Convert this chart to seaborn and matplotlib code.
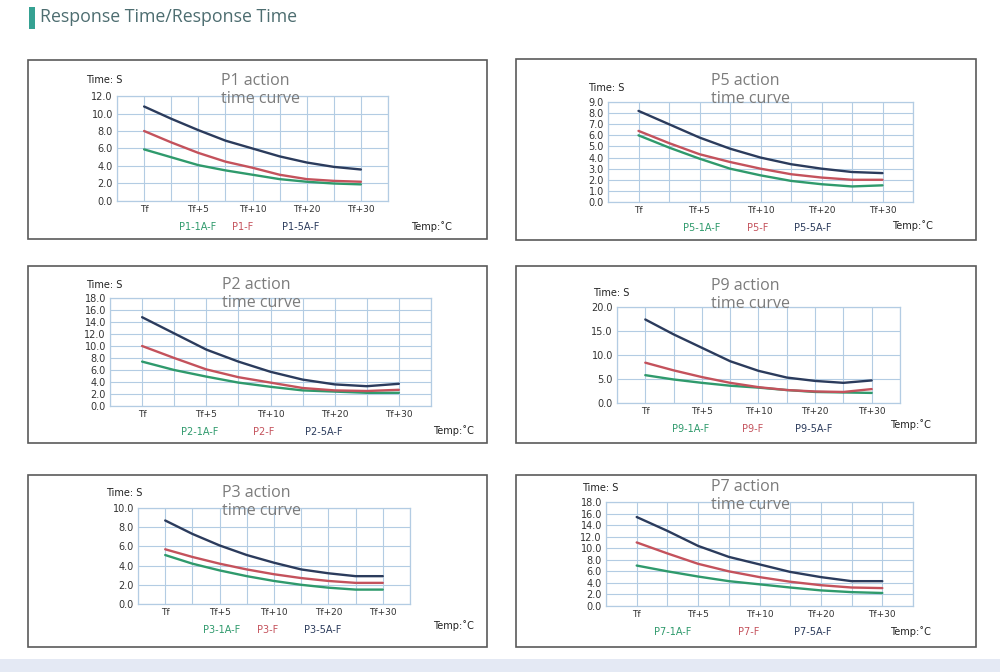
import pandas as pd
import seaborn as sns
import matplotlib
matplotlib.use("Agg")
import matplotlib.pyplot as plt
from matplotlib.patches import Rectangle

W, H = 1000, 672

temps = ["Tf", "Tf+5", "Tf+10", "Tf+20", "Tf+30"]
# curves read every half step between the temperature marks
steps = [0, 0.5, 1, 1.5, 2, 2.5, 3, 3.5, 4]

p1_1a = [5.9, 5.0, 4.1, 3.5, 3.0, 2.5, 2.2, 2.0, 1.9]
p1_f = [8.0, 6.7, 5.5, 4.5, 3.8, 3.0, 2.5, 2.3, 2.2]
p1_5a = [10.8, 9.4, 8.1, 6.9, 6.0, 5.1, 4.4, 3.9, 3.6]

p5_1a = [6.0, 4.9, 3.9, 3.0, 2.4, 1.9, 1.6, 1.4, 1.5]
p5_f = [6.4, 5.3, 4.3, 3.6, 3.0, 2.5, 2.2, 2.0, 2.0]
p5_5a = [8.2, 7.0, 5.8, 4.8, 4.0, 3.4, 3.0, 2.7, 2.6]

p2_1a = [7.4, 6.0, 4.9, 3.9, 3.2, 2.6, 2.4, 2.2, 2.2]
p2_f = [10.0, 8.0, 6.1, 4.8, 3.9, 3.0, 2.6, 2.5, 2.7]
p2_5a = [14.8, 12.1, 9.4, 7.4, 5.7, 4.4, 3.6, 3.3, 3.7]

p9_1a = [5.8, 4.9, 4.2, 3.6, 3.2, 2.7, 2.3, 2.2, 2.1]
p9_f = [8.4, 6.8, 5.4, 4.2, 3.3, 2.7, 2.4, 2.3, 2.9]
p9_5a = [17.4, 14.3, 11.5, 8.7, 6.7, 5.3, 4.6, 4.2, 4.7]

p3_1a = [5.1, 4.2, 3.5, 2.9, 2.4, 2.0, 1.7, 1.5, 1.5]
p3_f = [5.7, 4.9, 4.2, 3.6, 3.1, 2.7, 2.4, 2.2, 2.2]
p3_5a = [8.7, 7.3, 6.1, 5.1, 4.3, 3.6, 3.2, 2.9, 2.9]

p7_1a = [7.0, 6.0, 5.1, 4.3, 3.75, 3.2, 2.7, 2.4, 2.25]
p7_f = [11.0, 9.1, 7.3, 6.0, 5.0, 4.2, 3.6, 3.2, 3.1]
p7_5a = [15.4, 13.0, 10.4, 8.5, 7.2, 5.9, 5.0, 4.3, 4.3]

GREEN = "#2f9a6c"
RED = "#c4525c"
NAVY = "#2b3b5c"
GRID = "#b3cce3"
SMALL = ["DejaVu Sans"]

# name, series, ymax, ystep, box(px), axes(px), title(x,y), timeS(x,y), temp(x,y), legend x (data)
panels = [
    ("P1", (p1_1a, p1_f, p1_5a), 12, 2, (28, 60, 487, 239), (117, 96, 388, 201),
     (221, 90), (86, 80), (411, 227), (0.98, 1.82, 2.88)),
    ("P5", (p5_1a, p5_f, p5_5a), 9, 1, (516, 59, 976, 240), (608, 102, 913, 202),
     (711, 90), (588, 88), (892, 226), (1.04, 1.96, 2.85)),
    ("P2", (p2_1a, p2_f, p2_5a), 18, 2, (28, 266, 487, 443), (110, 298, 431, 406),
     (222, 294), (86, 285), (433, 431), (0.9, 1.9, 2.83)),
    ("P9", (p9_1a, p9_f, p9_5a), 20, 5, (516, 266, 976, 443), (617, 307, 900, 403),
     (711, 295), (593, 293), (890, 425), (0.8, 1.89, 2.98)),
    ("P3", (p3_1a, p3_f, p3_5a), 10, 2, (28, 475, 487, 647), (138, 508, 410, 604),
     (222, 502), (106, 493), (433, 626), (1.03, 1.89, 2.9)),
    ("P7", (p7_1a, p7_f, p7_5a), 18, 2, (516, 475, 976, 647), (606, 502, 913, 606),
     (711, 496), (582, 488), (890, 632), (0.58, 1.83, 2.87)),
]

sns.set_theme(style="white")
plt.rcParams["font.family"] = ["Open Sans", "DejaVu Sans"]

fig = plt.figure(figsize=(W / 100, H / 100), dpi=100)
fig.patch.set_facecolor("white")


def fx(px):
    return px / W


def fy(py):
    return 1 - py / H


# header
fig.add_artist(Rectangle((fx(29), fy(29)), 6 / W, 22 / H, transform=fig.transFigure,
                         facecolor="#35a192", edgecolor="none"))
fig.text(fx(40), fy(17), "Response Time/Response Time", fontsize=12.8,
         color="#4d6d70", va="center", ha="left")

# bottom band
fig.add_artist(Rectangle((0, 0), 1, 13 / H, transform=fig.transFigure,
                         facecolor="#e4e9f4", edgecolor="none"))

for name, series, ymax, ystep, box, axr, tpos, spos, tmp, legx in panels:
    bx0, by0, bx1, by1 = box
    fig.add_artist(Rectangle((fx(bx0), fy(by1)), (bx1 - bx0) / W, (by1 - by0) / H,
                             transform=fig.transFigure, facecolor="white",
                             edgecolor="#5a5a5a", lw=1.2, zorder=0))

    ax0, ay0, ax1, ay1 = axr
    ax = fig.add_axes([fx(ax0), fy(ay1), (ax1 - ax0) / W, (ay1 - ay0) / H])
    ax.set_facecolor("none")

    labels = [f"{name}-1A-F", f"{name}-F", f"{name}-5A-F"]
    frames = []
    for lab, vals in zip(labels, series):
        frames.append(pd.DataFrame({"pos": steps, "time": vals, "series": lab}))
    df = pd.concat(frames)
    sns.lineplot(data=df, x="pos", y="time", hue="series", hue_order=labels,
                 palette=[GREEN, RED, NAVY], lw=1.7, legend=False, ax=ax)

    ax.set_xlim(-0.5, 4.5)
    ax.set_ylim(0, ymax)
    ax.set_xticks(range(len(temps)))
    ax.set_xticklabels(temps, family=SMALL, fontsize=6.5)
    ax.set_xticks([i + 0.5 for i in range(-1, len(temps))], minor=True)
    yt = list(range(0, ymax + 1, ystep))
    ax.set_yticks(yt)
    ax.set_yticklabels([f"{v:.1f}" for v in yt], family=SMALL, fontsize=7)
    ax.grid(True, which="both", color=GRID, lw=0.8)
    ax.tick_params(axis="both", which="both", length=0, colors="#333333", pad=3)
    ax.set_xlabel("")
    ax.set_ylabel("")
    for sp in ax.spines.values():
        sp.set_color(GRID)
        sp.set_linewidth(0.9)

    # colored series labels under the axis
    lab_y = -26 / (ay1 - ay0)
    for lx, lab, col in zip(legx, labels, [GREEN, RED, NAVY]):
        ax.text(lx, lab_y, lab, transform=ax.get_xaxis_transform(), color=col,
                fontsize=7, family=SMALL, ha="center", va="center")

    fig.text(fx(tpos[0]), fy(tpos[1]), f"{name} action\ntime curve", fontsize=11.5,
             color="#7b7b7b", ha="left", va="center", linespacing=1.2)
    fig.text(fx(spos[0]), fy(spos[1]), "Time: S", fontsize=7, family=SMALL,
             color="#222222", ha="left", va="center")
    fig.text(fx(tmp[0]), fy(tmp[1]), "Temp:˚C", fontsize=7, family=SMALL,
             color="#222222", ha="left", va="center")

fig.savefig("out.png", dpi=100)
